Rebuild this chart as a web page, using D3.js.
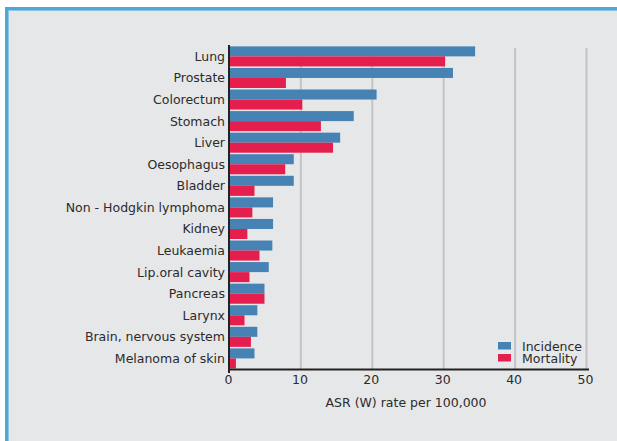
<!DOCTYPE html>
<html><head><meta charset="utf-8">
<script src="https://cdn.jsdelivr.net/npm/d3@7"></script>
<style>html,body{margin:0;padding:0;background:#fff;}svg{display:block;}</style>
</head><body>
<script>
const categories = ["Lung","Prostate","Colorectum","Stomach","Liver","Oesophagus","Bladder","Non - Hodgkin lymphoma","Kidney","Leukaemia","Lip.oral cavity","Pancreas","Larynx","Brain, nervous system","Melanoma of skin"];
const incidence = [34.4,31.3,20.6,17.4,15.5,9.0,9.0,6.1,6.1,6.0,5.5,4.9,3.9,3.9,3.5];
const mortality = [30.2,7.9,10.2,12.8,14.5,7.8,3.5,3.2,2.5,4.2,2.8,4.9,2.1,3.0,0.9];
const seriesNames = ["Incidence","Mortality"];
const xTicks = [0,10,20,30,40,50];
const xTitle = "ASR (W) rate per 100,000";

const W=617,H=441;
const colors = {Incidence:"#4682b4", Mortality:"#e41f4e"};
const font = "'DejaVu Sans', Verdana, sans-serif";
const fs = 12.5;

const svg = d3.select("body").append("svg").attr("width",W).attr("height",H);
svg.append("rect").attr("width",W).attr("height",H).attr("fill","#ffffff");
// panel
svg.append("rect").attr("x",5).attr("y",7).attr("width",W).attr("height",H).attr("fill","#e6e7e9");
svg.append("rect").attr("x",5).attr("y",7).attr("width",W).attr("height",3).attr("fill","#4da8d7");
svg.append("rect").attr("x",5).attr("y",10).attr("width",W).attr("height",1).attr("fill","#8cc6e4");
svg.append("rect").attr("x",5).attr("y",7).attr("width",3).attr("height",H).attr("fill","#4da8d7");
svg.append("rect").attr("x",8).attr("y",10).attr("width",1).attr("height",H).attr("fill","#8cc6e4");

const x = d3.scaleLinear().domain([0,50]).range([229.5,586.5]);
const y = d3.scaleBand().domain(categories).range([45.6,369.2]).paddingInner(0.07).paddingOuter(0.035);
const sub = d3.scaleBand().domain(seriesNames).range([0,y.bandwidth()]);

// gridlines
svg.append("g").selectAll("line").data(xTicks.filter(d=>d>0)).join("line")
  .attr("x1",d=>x(d)).attr("x2",d=>x(d)).attr("y1",48).attr("y2",369)
  .attr("stroke","#c3c4c6").attr("stroke-width",2);

const data = categories.map((c,i)=>({c, Incidence:incidence[i], Mortality:mortality[i]}));
const g = svg.append("g");
seriesNames.forEach(s=>{
  g.selectAll("rect."+s).data(data).join("rect").attr("class",s)
    .attr("x",x(0)).attr("y",d=>y(d.c)+sub(s))
    .attr("width",d=>x(d[s])-x(0)).attr("height",sub.bandwidth())
    .attr("fill",colors[s]);
});

// axes
svg.append("line").attr("x1",229).attr("x2",229).attr("y1",45).attr("y2",373).attr("stroke","#222").attr("stroke-width",2);
svg.append("line").attr("x1",228).attr("x2",589).attr("y1",369.5).attr("y2",369.5).attr("stroke","#222").attr("stroke-width",2);

// category labels
svg.append("g").selectAll("text").data(categories).join("text")
  .attr("x",225).attr("y",d=>y(d)+y.bandwidth()/2).attr("dy","0.36em")
  .attr("text-anchor","end").attr("font-family",font).attr("font-size",fs).attr("fill","#2b2b2b")
  .text(d=>d);

// x tick labels
svg.append("g").selectAll("text").data(xTicks).join("text")
  .attr("x",d=>x(d)-1).attr("y",384).attr("text-anchor","middle")
  .attr("font-family",font).attr("font-size",fs).attr("fill","#2b2b2b").text(d=>d);

svg.append("text").attr("x",(x(0)+x(50))/2-2).attr("y",407).attr("text-anchor","middle")
  .attr("font-family",font).attr("font-size",fs).attr("fill","#2b2b2b").text(xTitle);

// legend
const lg = svg.append("g");
seriesNames.forEach((s,i)=>{
  lg.append("rect").attr("x",498).attr("y",342+i*12).attr("width",13).attr("height",7.5).attr("fill",colors[s]);
  lg.append("text").attr("x",522).attr("y",350.5+i*12).attr("font-family",font).attr("font-size",fs).attr("fill","#2b2b2b").text(s);
});
</script>
</body></html>
